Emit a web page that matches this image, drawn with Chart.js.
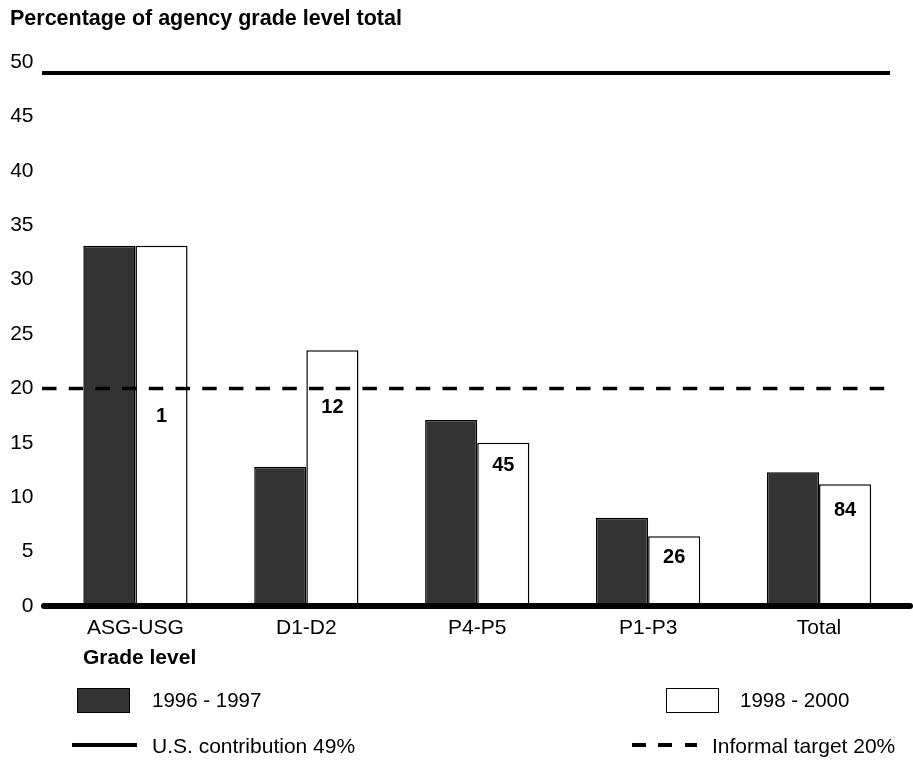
<!DOCTYPE html>
<html><head><meta charset="utf-8">
<script src="https://cdn.jsdelivr.net/npm/chart.js@4/dist/chart.umd.min.js"></script>
<style>
html,body{margin:0;padding:0;background:#fff;}
#wrap{position:relative;width:913px;height:761px;font-family:"Liberation Sans",Arial,sans-serif;color:#000;}
canvas{position:absolute;left:0;top:0;}
.t{position:absolute;white-space:nowrap;line-height:1;}
.box{position:absolute;width:53px;height:25px;border:1.5px solid #000;box-sizing:border-box;}
.ln{position:absolute;height:4px;background:#000;}
</style></head>
<body><div id="wrap">
<canvas id="c" width="913" height="761"></canvas>
<div class="t" style="left:10px;top:8px;font-weight:bold;font-size:21.5px;">Percentage of agency grade level total</div>
<div class="t" style="left:83px;top:646px;font-weight:bold;font-size:21px;">Grade level</div>
<div class="box" style="left:77px;top:688px;background:#333;"></div>
<div class="t" style="left:152px;top:690px;font-size:20.5px;">1996 - 1997</div>
<div class="box" style="left:666px;top:688px;background:#fff;"></div>
<div class="t" style="left:740px;top:690px;font-size:20.5px;">1998 - 2000</div>
<div class="ln" style="left:72px;top:743px;width:65px;"></div>
<div class="t" style="left:152px;top:735px;font-size:21px;">U.S. contribution 49%</div>
<div class="ln" style="left:632px;top:743px;width:14px;"></div>
<div class="ln" style="left:658px;top:743px;width:14px;"></div>
<div class="ln" style="left:685px;top:743px;width:12px;"></div>
<div class="t" style="left:712px;top:735px;font-size:21px;">Informal target 20%</div>
</div>
<script>
const categories = ["ASG-USG", "D1-D2", "P4-P5", "P1-P3", "Total"];
const series1996 = [33.1, 12.8, 17.1, 8.1, 12.3];
const series1998 = [33.1, 23.5, 15.0, 6.4, 11.2];
const staffCounts = ["1", "12", "45", "26", "84"];
const staffLabelY = [17.4, 18.2, 12.9, 4.5, 8.8];
const usContribution = 49;
const informalTarget = 20;
const yTicks = [0, 5, 10, 15, 20, 25, 30, 35, 40, 45, 50];

const FONT = "'Liberation Sans', Arial, sans-serif";

const overlay = {
  id: 'overlay',
  afterDatasetsDraw(chart) {
    const ctx = chart.ctx, y = chart.scales.y;
    ctx.save();
    ctx.strokeStyle = '#000';
    ctx.lineWidth = 4;
    ctx.setLineDash([]);
    ctx.beginPath();
    ctx.moveTo(42, y.getPixelForValue(usContribution));
    ctx.lineTo(890, y.getPixelForValue(usContribution));
    ctx.stroke();
    ctx.lineWidth = 3.5;
    ctx.setLineDash([14.5, 12.2]);
    ctx.beginPath();
    ctx.moveTo(42, y.getPixelForValue(informalTarget));
    ctx.lineTo(892, y.getPixelForValue(informalTarget));
    ctx.stroke();
    ctx.setLineDash([]);
    ctx.lineWidth = 6;
    ctx.lineCap = 'round';
    ctx.beginPath();
    ctx.moveTo(44, y.getPixelForValue(0));
    ctx.lineTo(910, y.getPixelForValue(0));
    ctx.stroke();
    const meta = chart.getDatasetMeta(1);
    ctx.fillStyle = '#000';
    ctx.font = "bold 20px " + FONT;
    ctx.textAlign = 'center';
    ctx.textBaseline = 'middle';
    meta.data.forEach((bar, i) => {
      ctx.fillText(staffCounts[i], bar.x, y.getPixelForValue(staffLabelY[i]));
    });
    ctx.restore();
  }
};

new Chart(document.getElementById('c'), {
  type: 'bar',
  data: {
    labels: categories,
    datasets: [
      { label: '1996 - 1997', data: series1996, backgroundColor: '#333333', borderColor: '#000', borderWidth: 1.5, categoryPercentage: 0.61, barPercentage: 1.0 },
      { label: '1998 - 2000', data: series1998, backgroundColor: '#ffffff', borderColor: '#000', borderWidth: 1.5, categoryPercentage: 0.61, barPercentage: 1.0 }
    ]
  },
  options: {
    responsive: false,
    animation: false,
    devicePixelRatio: 1,
    layout: { padding: { left: 0, right: 8.5, top: 62, bottom: 0 } },
    plugins: { legend: { display: false }, tooltip: { enabled: false } },
    scales: {
      x: {
        grid: { display: false, drawTicks: false },
        border: { display: false },
        ticks: { color: '#000', font: { family: FONT, size: 21 }, padding: 10, maxRotation: 0 },
        afterFit(s) { s.height = 155; }
      },
      y: {
        min: 0, max: 50,
        afterBuildTicks(s) { s.ticks = yTicks.map(v => ({ value: v })); },
        grid: { display: false, drawTicks: false },
        border: { display: false },
        ticks: { color: '#000', font: { family: FONT, size: 21 }, padding: 16.5 },
        afterFit(s) { s.width = 50; }
      }
    }
  },
  plugins: [overlay]
});
</script>
</body></html>
